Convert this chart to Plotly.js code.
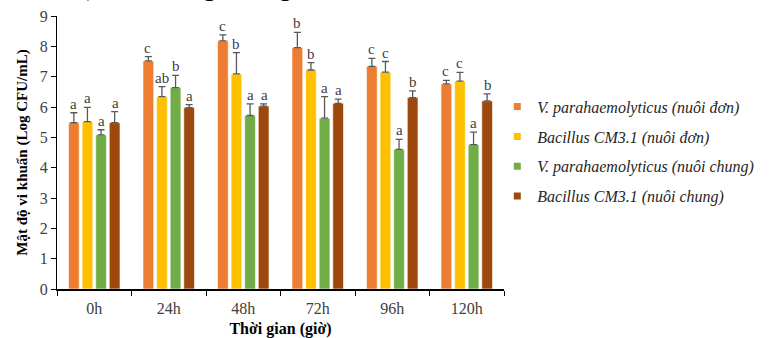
<!DOCTYPE html>
<html><head><meta charset="utf-8">
<script src="https://cdn.plot.ly/plotly-3.0.1.min.js"></script>
<style>html,body{margin:0;padding:0;background:#fff}#c{width:771px;height:338px}</style>
</head><body><div id="c"></div>
<script>
const categories = ["0h","24h","48h","72h","96h","120h"];
const seriesNames = ["V. parahaemolyticus (nuôi đơn)","Bacillus CM3.1 (nuôi đơn)","V. parahaemolyticus (nuôi chung)","Bacillus CM3.1 (nuôi chung)"];
const vpSingle = [5.48, 7.52, 8.18, 7.96, 7.34, 6.76];
const vpSingleErr = [0.33, 0.14, 0.20, 0.50, 0.26, 0.12];
const bcSingle = [5.52, 6.34, 7.09, 7.22, 7.15, 6.85];
const bcSingleErr = [0.47, 0.33, 0.70, 0.24, 0.35, 0.29];
const vpCo = [5.08, 6.64, 5.72, 5.63, 4.60, 4.76];
const vpCoErr = [0.17, 0.40, 0.38, 0.71, 0.33, 0.41];
const bcCo = [5.48, 5.98, 6.03, 6.12, 6.31, 6.20];
const bcCoErr = [0.37, 0.10, 0.07, 0.14, 0.22, 0.23];
const vpSingleLetters = ["a","c","c","b","c","c"];
const bcSingleLetters = ["a","ab","b","b","c","c"];
const vpCoLetters = ["a","b","a","a","a","a"];
const bcCoLetters = ["a","a","a","a","b","b"];
const colors = ["#ED7D31","#FFC000","#70AD47","#9E480E"];

const values = [vpSingle, bcSingle, vpCo, bcCo];
const errs = [vpSingleErr, bcSingleErr, vpCoErr, bcCoErr];
const letters = [vpSingleLetters, bcSingleLetters, vpCoLetters, bcCoLetters];

const SERIF = 'Liberation Serif';
const W = 771, H = 338;
const margin = {l:57, r:252, t:16, b:49};
const plotW = W - margin.l - margin.r;
const plotH = H - margin.t - margin.b;
const bargap = 0.27;
const catW = plotW / categories.length;
const pitch = catW * (1 - bargap) / 4;

const traces = values.map((v, i) => ({
  type: 'bar', name: seriesNames[i], x: categories, y: v,
  showlegend: false,
  marker: {color: colors[i], line: {color: 'rgba(255,255,255,0.6)', width: 1}},
  error_y: {type: 'data', array: errs[i], arrayminus: errs[i].map(() => 0), symmetric: false,
            color: '#595959', thickness: 1.3, width: 3.5}
}));
seriesNames.forEach((n, i) => traces.push({
  type: 'scatter', mode: 'markers', name: '<i>' + n + '</i>', x: [null], y: [null],
  legendgroup: 'g' + i, showlegend: true,
  marker: {symbol: 'square', size: 7, color: colors[i]}
}));

const annotations = [];
values.forEach((v, i) => {
  v.forEach((val, j) => {
    annotations.push({
      x: categories[j], y: val + errs[i][j], xref: 'x', yref: 'y',
      text: letters[i][j], showarrow: false, yanchor: 'bottom',
      xshift: (i - 1.5) * pitch, yshift: -1,
      font: {family: SERIF, size: 15, color: '#404040'}
    });
  });
});
annotations.push({
  xref: 'paper', yref: 'paper', x: (358 - margin.l) / plotW, y: 1,
  xanchor: 'right', yanchor: 'bottom', showarrow: false, yshift: 13,
  text: 'CFU/mL). Còn riêng với nghiệm',
  font: {family: SERIF, size: 27, color: '#000'}
});

const layout = {
  width: W, height: H, margin: margin,
  paper_bgcolor: '#fff', plot_bgcolor: '#fff',
  barmode: 'group', bargap: bargap, bargroupgap: 0.21,
  font: {family: SERIF, size: 15, color: '#404040'},
  xaxis: {
    type: 'category', showline: true, linecolor: '#000', linewidth: 1.5,
    ticks: 'outside', tickson: 'boundaries', ticklen: 5, tickcolor: '#000',
    ticklabelstandoff: 4,
    tickfont: {family: SERIF, size: 16, color: '#404040'},
    title: {text: '<b>Thời gian (giờ)</b>', font: {family: SERIF, size: 16, color: '#000'}, standoff: 8},
    showgrid: false, zeroline: false
  },
  yaxis: {
    range: [0, 9], dtick: 1, showline: true, linecolor: '#000', linewidth: 1,
    ticks: 'outside', ticklen: 5, tickcolor: '#000',
    tickfont: {family: SERIF, size: 16, color: '#404040'},
    title: {text: '<b>Mật độ vi khuẩn (Log CFU/mL)</b>', font: {family: SERIF, size: 15, color: '#000'}, standoff: 8},
    showgrid: false, zeroline: false
  },
  showlegend: true,
  legend: {
    x: 0.985, xanchor: 'left', y: 0.73, yanchor: 'top',
    font: {family: SERIF, size: 16, color: '#262626'},
    tracegroupgap: 6, itemwidth: 30, bgcolor: 'rgba(0,0,0,0)'
  },
  annotations: annotations
};

Plotly.newPlot('c', traces, layout, {displayModeBar: false, staticPlot: true});
</script>
</body></html>
